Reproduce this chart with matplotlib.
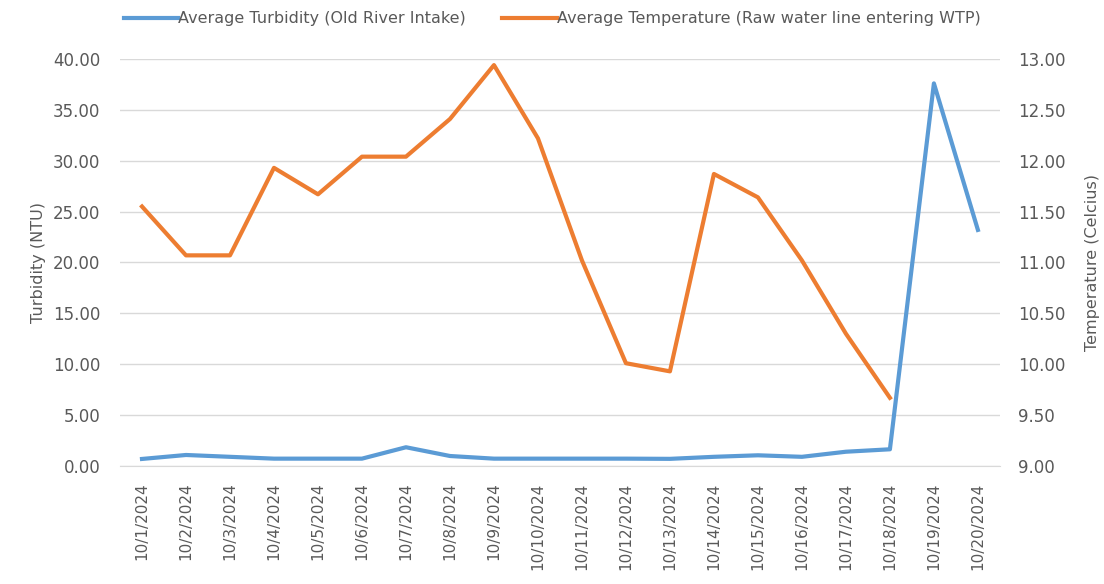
import numpy as np
import matplotlib.pyplot as plt

dates = ['10/%d/2024' % d for d in range(1, 21)]
turbidity = [0.69, 1.08, 0.90, 0.72, 0.72, 0.72, 1.84, 0.98, 0.72, 0.72,
             0.72, 0.72, 0.70, 0.90, 1.05, 0.90, 1.40, 1.64, 37.6, 23.2]
temperature = [11.55, 11.07, 11.07, 11.93, 11.67, 12.04, 12.04, 12.41, 12.94, 12.22,
               11.02, 10.01, 9.93, 11.87, 11.64, 11.02, 10.30, 9.67, np.nan, np.nan]

blue = '#5B9BD5'
orange = '#ED7D31'
txt = '#595959'
plt.rcParams['font.family'] = ['DejaVu Sans']

fig = plt.figure(figsize=(11.04, 5.84), dpi=100)
ax = fig.add_axes([0.1087, 0.2021, 0.797, 0.6969])
ax2 = ax.twinx()

x = np.arange(len(dates))
l1, = ax.plot(x, turbidity, color=blue, lw=3, solid_joinstyle='round', zorder=3)
l2, = ax2.plot(x, temperature, color=orange, lw=3, solid_joinstyle='round', zorder=3)

ax.set_xlim(-0.5, len(dates) - 0.5)
ax.set_ylim(0, 40)
ax2.set_ylim(9, 13)
ax.set_yticks(np.arange(0, 41, 5))
ax2.set_yticks(np.arange(9, 13.01, 0.5))
ax.set_yticklabels(['%.2f' % v for v in np.arange(0, 41, 5)])
ax2.set_yticklabels(['%.2f' % v for v in np.arange(9, 13.01, 0.5)])
ax.set_xticks(x)
ax.set_xticklabels(dates, rotation=90)

ax.grid(axis='y', color='#D9D9D9', lw=1)
ax.set_axisbelow(True)
for a in (ax, ax2):
    for s in a.spines.values():
        s.set_visible(False)
    a.tick_params(length=0, colors=txt, labelsize=12)
ax.spines['bottom'].set_visible(True)
ax.spines['bottom'].set_color('#D9D9D9')
ax.tick_params(axis='y', pad=14)
ax2.tick_params(axis='y', pad=13)
ax.tick_params(axis='x', pad=12, labelsize=11)

ax.set_ylabel('Turbidity (NTU)', color=txt, fontsize=11.5, labelpad=5)
ax2.set_ylabel('Temperature (Celcius)', color=txt, fontsize=11.5, labelpad=14)

fig.legend([l1, l2], ['Average Turbidity (Old River Intake)',
                      'Average Temperature (Raw water line entering WTP)'],
           loc='upper center', bbox_to_anchor=(0.5, 1.005), ncol=2, frameon=False,
           fontsize=11.5, labelcolor=txt, handlelength=3.4, handletextpad=0.0,
           columnspacing=2.3)

fig.savefig('out.png', dpi=100)
